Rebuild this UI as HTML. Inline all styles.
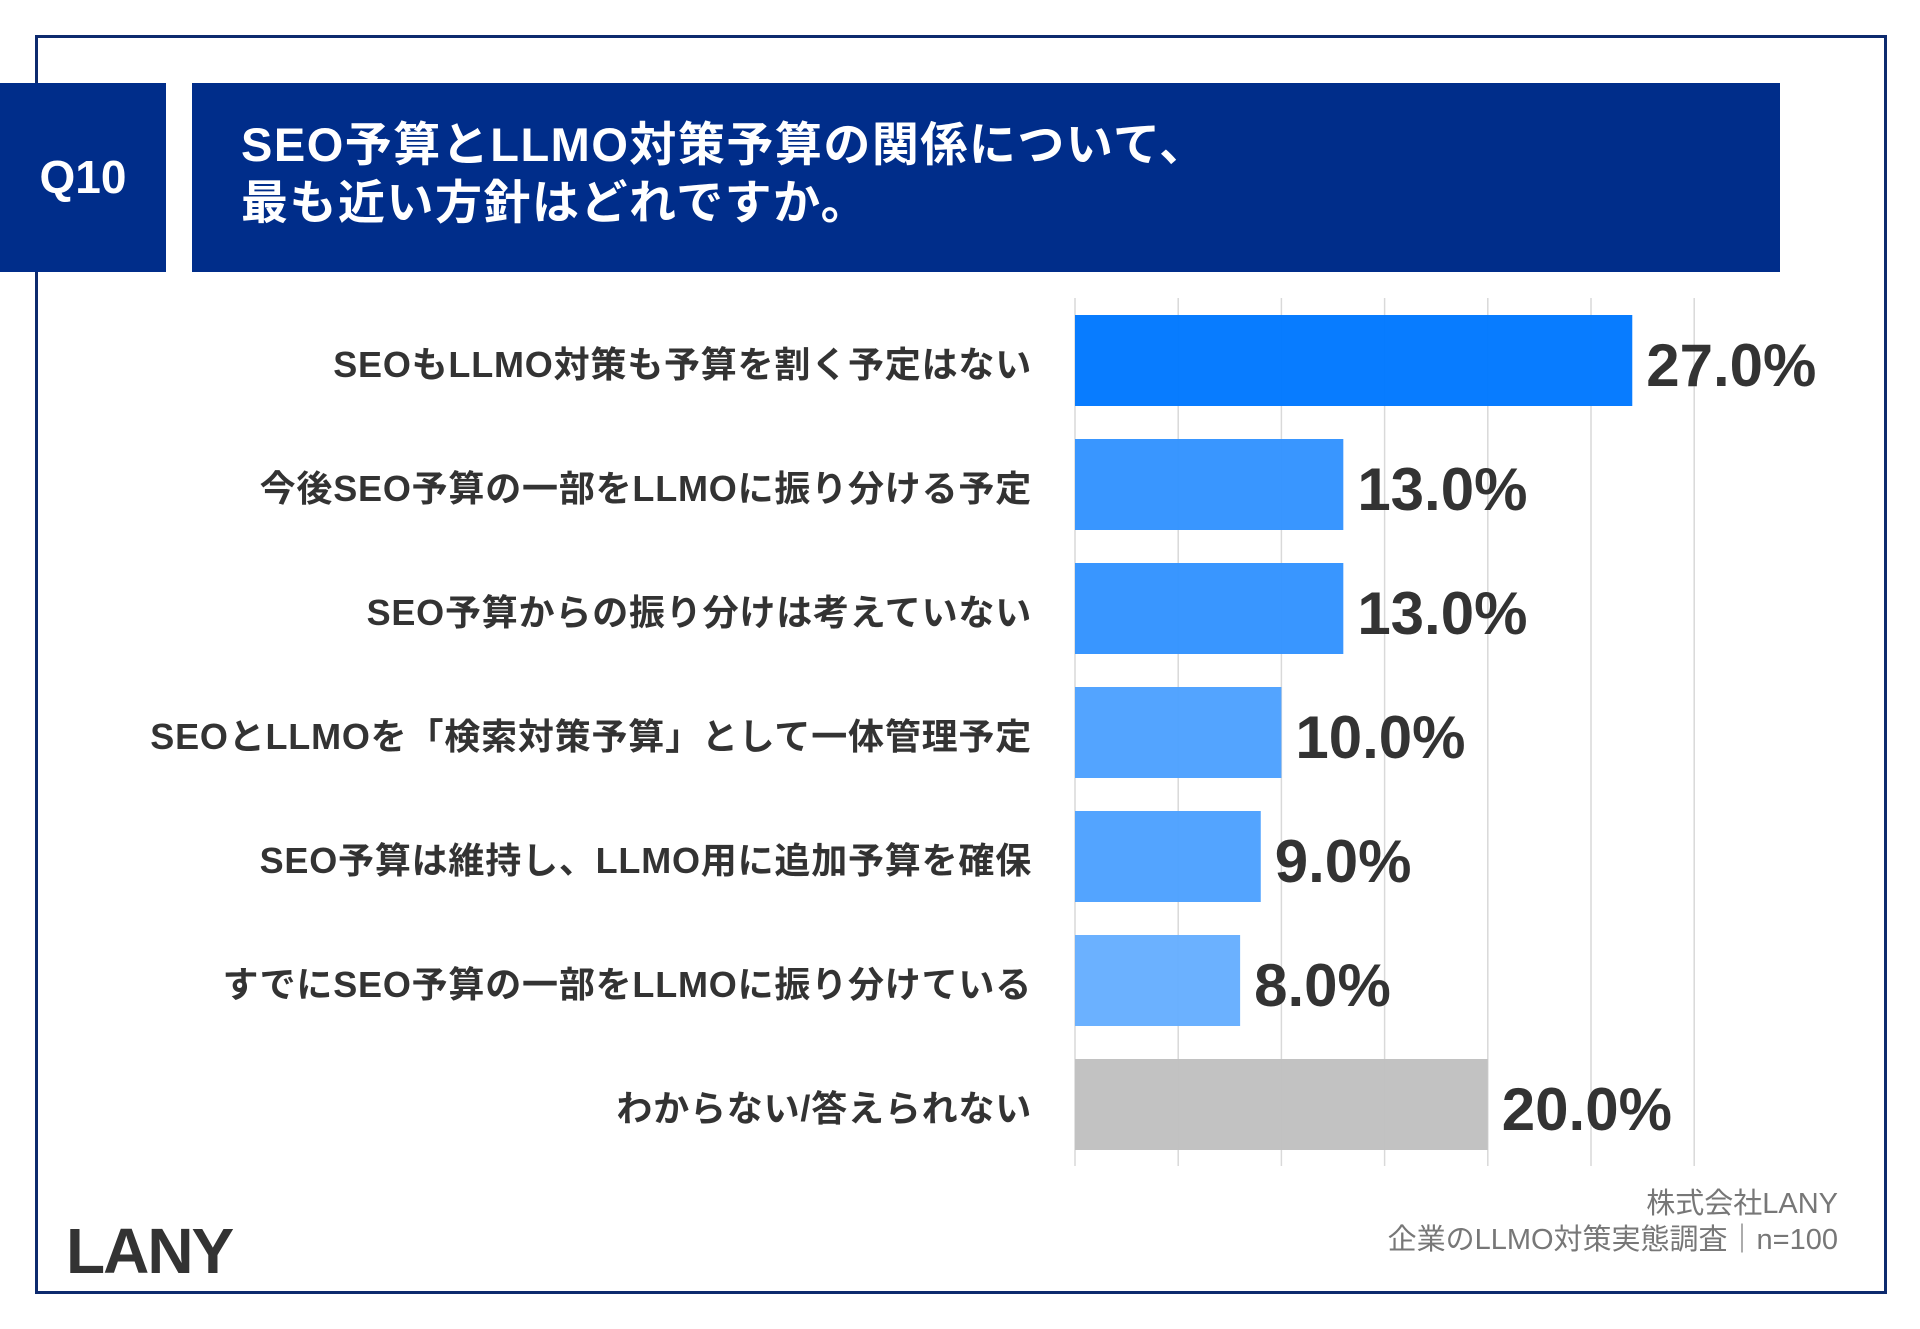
<!DOCTYPE html>
<html><head><meta charset="utf-8">
<style>
body{margin:0;width:1920px;height:1329px;background:#fff;position:relative;overflow:hidden;font-family:"Liberation Sans","Noto Sans CJK JP",sans-serif;}
.abs{position:absolute;}
#frame{left:35px;top:35px;width:1852px;height:1259px;border:3px solid #0d2a6e;box-sizing:border-box;}
#qbox{left:0;top:83px;width:166px;height:189px;background:#002d8a;color:#fff;font-weight:bold;font-size:46px;line-height:189px;text-align:center;}
#tbox{left:192px;top:83px;width:1588px;height:189px;background:#002d8a;}
#title{left:241px;top:116px;color:#fff;font-weight:bold;font-size:47px;letter-spacing:1.5px;line-height:58px;}
.lbl{right:888px;font-weight:bold;font-size:36px;letter-spacing:0.8px;color:#333;white-space:nowrap;text-align:right;}
.val{font-weight:bold;font-size:60px;color:#333;font-family:"Liberation Sans Narrow","Liberation Sans",sans-serif;white-space:nowrap;}
#foot{right:82px;top:1186px;text-align:right;color:#777;font-size:29px;line-height:36px;}
#logo{left:66px;top:1214px;font-weight:bold;font-size:64px;color:#333;letter-spacing:-2px;}
</style></head><body>
<div class="abs" id="frame"></div>
<div class="abs" id="qbox">Q10</div>
<div class="abs" id="tbox"></div>
<div class="abs" id="title">SEO予算とLLMO対策予算の関係について、<br>最も近い方針はどれですか。</div>
<svg class="abs" style="left:0;top:0" width="1920" height="1329" id="chart"></svg>
<div id="labels"></div>
<div class="abs" id="foot">株式会社LANY<br>企業のLLMO対策実態調査｜n=100</div>
<div class="abs" id="logo">LANY</div>
<script>
const categories=["SEOもLLMO対策も予算を割く予定はない","今後SEO予算の一部をLLMOに振り分ける予定","SEO予算からの振り分けは考えていない","SEOとLLMOを「検索対策予算」として一体管理予定","SEO予算は維持し、LLMO用に追加予算を確保","すでにSEO予算の一部をLLMOに振り分けている","わからない/答えられない"];
const values=[27.0,13.0,13.0,10.0,9.0,8.0,20.0];
const gridTicks=[0,5,10,15,20,25,30];
const colors=["#0078ff","#3393ff","#3393ff","#4da1ff","#4da1ff","#66aeff","#c0c0c0"];
const x0=1075,pxPer=20.64,y0=315,pitch=124,bh=91;
const xs=v=>x0+v*pxPer;
const ys=i=>y0+i*pitch;
const svg=document.getElementById('chart');
const NS='http://www.w3.org/2000/svg';
gridTicks.forEach(t=>{const l=document.createElementNS(NS,'line');
l.setAttribute('x1',xs(t));l.setAttribute('x2',xs(t));l.setAttribute('y1',298);l.setAttribute('y2',1166);
l.setAttribute('stroke','#d9d9d9');l.setAttribute('stroke-width','1.5');


svg.appendChild(l);});
const lab=document.getElementById('labels');
values.forEach((v,i)=>{
const r=document.createElementNS(NS,'rect');
r.setAttribute('x',xs(0));r.setAttribute('y',ys(i));r.setAttribute('width',xs(v)-xs(0));r.setAttribute('height',bh);
r.setAttribute('fill',colors[i]);r.setAttribute('fill-opacity','0.97');


svg.appendChild(r);
const c=document.createElement('div');c.className='abs lbl';c.style.top=(ys(i)+bh/2-25)+'px';c.textContent=categories[i];


lab.appendChild(c);
const t=document.createElement('div');t.className='abs val';t.style.left=(xs(v)+14)+'px';t.style.top=(ys(i)+bh/2-30)+'px';t.textContent=v.toFixed(1)+'%';


lab.appendChild(t);
});
</script>
</body></html>
